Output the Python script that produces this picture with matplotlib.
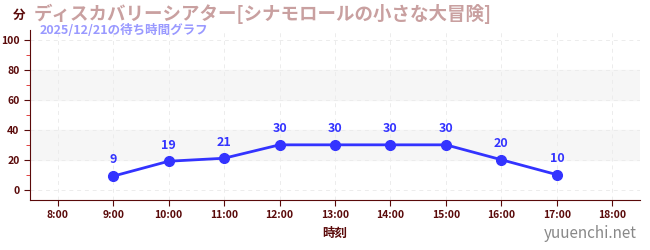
import matplotlib
matplotlib.use("Agg")
import matplotlib.pyplot as plt
from matplotlib.ticker import MultipleLocator

plt.rcParams['font.family'] = ['Noto Sans CJK JP', 'DejaVu Sans']

hours = [9, 10, 11, 12, 13, 14, 15, 16, 17]
waits = [9, 19, 21, 30, 30, 30, 30, 20, 10]
tick_hours = list(range(8, 19))
tick_labels = ["%d:00" % h for h in tick_hours]

title = "ディスカバリーシアター[シナモロールの小さな大冒険]"
subtitle = "2025/12/21の待ち時間グラフ"

dark = "#5a0a0a"
blue = "#3333ff"

fig = plt.figure(figsize=(6.5, 2.5), dpi=100)
ax = fig.add_axes([30 / 650, 50 / 250, 610 / 650, 170 / 250])

ax.set_xlim(7.5, 18.5)
ax.set_ylim(-7, 107)

for lo, hi in [(20, 40), (60, 80)]:
    ax.axhspan(lo, hi, color="#f6f6f6", zorder=0)

ax.grid(True, which="major", color="#ececec", linestyle=(0, (4, 4)), linewidth=0.7, zorder=0)

ax.plot(hours, waits, color=blue, linewidth=2, marker="o", markersize=7, zorder=3)
for h, w in zip(hours, waits):
    ax.annotate(str(w), (h, w), xytext=(0, 7), textcoords="offset points",
                ha="center", va="bottom", color=blue, fontsize=9, fontweight="bold")

ax.set_xticks(tick_hours)
ax.set_xticklabels(tick_labels)
ax.yaxis.set_major_locator(MultipleLocator(20))
ax.yaxis.set_minor_locator(MultipleLocator(10))
ax.tick_params(axis="both", which="major", colors=dark, labelsize=7.5, length=4)
ax.tick_params(axis="y", which="minor", color="#dd2222", length=3)
for lbl in ax.get_xticklabels() + ax.get_yticklabels():
    lbl.set_color(dark)
    lbl.set_fontweight("bold")

for s in ["top", "right"]:
    ax.spines[s].set_visible(False)
for s in ["left", "bottom"]:
    ax.spines[s].set_color(dark)

ax.set_xlabel("時刻", color=dark, fontsize=9, fontweight="bold", labelpad=5)

fig.text(13 / 650, 1 - 15 / 250, "分", color=dark, fontsize=9, fontweight="bold", va="center")
fig.text(34 / 650, 1 - 14 / 250, title, color="#c9a0a0", fontsize=13.3, fontweight="bold", va="center")
fig.text(40 / 650, 1 - 30 / 250, subtitle, color="#9999ff", fontsize=9, fontweight="bold", va="center")
fig.text(637 / 650, 1 - 234 / 250, "yuuenchi.net", color="#888888", fontsize=11, ha="right", va="center")

fig.savefig("out.png", dpi=100)
